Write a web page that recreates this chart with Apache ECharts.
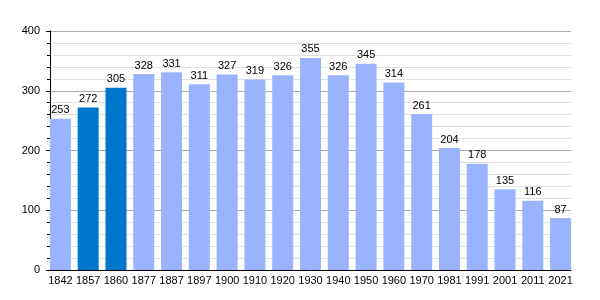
<!DOCTYPE html>
<html><head><meta charset="utf-8">
<script src="https://cdn.jsdelivr.net/npm/echarts@6/dist/echarts.min.js"></script>
<style>html,body{margin:0;padding:0;background:#fff}#c{width:600px;height:300px}</style>
</head><body><div id="c"></div>
<script>
const years = ['1842','1857','1860','1877','1887','1897','1900','1910','1920','1930','1940','1950','1960','1970','1981','1991','2001','2011','2021'];
const population = [253,272,305,328,331,311,327,319,326,355,326,345,314,261,204,178,135,116,87];
const highlighted = ['1857','1860'];
const yTicks = [0,100,200,300,400];

const font = 'Liberation Sans, Arial, sans-serif';
const chart = echarts.init(document.getElementById('c'), null, {renderer:'canvas'});
chart.setOption({
  animation:false,
  grid:[
    {left:46.5,right:25.5,top:31,bottom:30},
    {left:50,right:29,top:31,bottom:30}
  ],
  xAxis:[
    {gridIndex:0,type:'category',data:years,
      axisLine:{show:false},axisTick:{show:false},
      axisLabel:{interval:0,color:'#000',fontSize:11,fontFamily:font,margin:5}},
    {gridIndex:1,type:'category',data:years,
      axisLine:{show:true,lineStyle:{color:'#000',width:1}},
      axisTick:{show:false},axisLabel:{show:false},splitLine:{show:false}}
  ],
  yAxis:[
    {gridIndex:0,type:'value',min:yTicks[0],max:yTicks[yTicks.length-1],interval:100,show:false},
    {gridIndex:1,type:'value',min:yTicks[0],max:yTicks[yTicks.length-1],interval:100,
      axisLine:{show:true,lineStyle:{color:'#000'}},
      axisTick:{show:true,length:4,lineStyle:{color:'#000'}},
      minorTick:{show:true,splitNumber:5,length:3,lineStyle:{color:'#000'}},
      splitLine:{lineStyle:{color:'#aaa'}},
      minorSplitLine:{show:true,lineStyle:{color:'#e0e0e0'}},
      axisLabel:{color:'#000',fontSize:11,fontFamily:font,margin:10}}
  ],
  series:[{type:'bar',xAxisIndex:0,yAxisIndex:0,barWidth:21,
    data:population.map((v,i)=>({value:v,itemStyle:{color:highlighted.includes(years[i])?'#0077cc':'#99b3ff'}})),
    label:{show:true,position:'top',distance:3,color:'#000',fontSize:11,fontFamily:font}}]
});
</script></body></html>
